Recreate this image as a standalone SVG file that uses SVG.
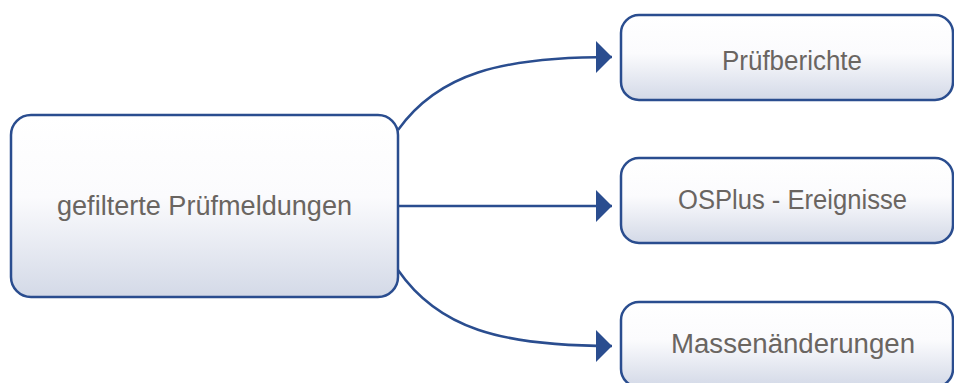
<svg xmlns="http://www.w3.org/2000/svg" width="954" height="383" viewBox="0 0 954 383">
<defs>
<linearGradient id="g" x1="0" y1="0" x2="0" y2="1">
<stop offset="0" stop-color="#ffffff"/>
<stop offset="0.45" stop-color="#fbfbfd"/>
<stop offset="1" stop-color="#d3d9e7"/>
</linearGradient>
<marker id="arr" markerUnits="userSpaceOnUse" markerWidth="18" markerHeight="34" refX="16" refY="16" orient="auto" viewBox="0 0 18 34">
<path d="M0,0 L16,16 L0,32 Z" fill="#2a4d8f"/>
</marker>
</defs>
<style>
.box{fill:url(#g);stroke:#2a4d8f;stroke-width:2.5}
.lbl{font-family:"Liberation Sans",Arial,sans-serif;font-size:27px;fill:#6a6561;text-anchor:middle}
.con{fill:none;stroke:#2a4d8f;stroke-width:2.5;marker-end:url(#arr)}
</style>
<rect width="954" height="383" fill="#ffffff"/>
<g id="connectors">
<path class="con" d="M398,130 C438,74 500,57 612,57"/>
<path class="con" d="M398,206 L612,206"/>
<path class="con" d="M398,270 C438,328 500,346 612,346"/>
</g>
<g id="node-source">
<rect class="box" x="11" y="115" width="387" height="182" rx="20"/>
<text class="lbl" x="204.5" y="215" textLength="295" lengthAdjust="spacingAndGlyphs">gefilterte Prüfmeldungen</text>
</g>
<g id="node-pruefberichte">
<rect class="box" x="621" y="15" width="332" height="85" rx="18"/>
<text class="lbl" x="792" y="69.5" textLength="140" lengthAdjust="spacingAndGlyphs">Prüfberichte</text>
</g>
<g id="node-osplus">
<rect class="box" x="621" y="158" width="332" height="85" rx="18"/>
<text class="lbl" x="792.5" y="209" textLength="229" lengthAdjust="spacingAndGlyphs">OSPlus - Ereignisse</text>
</g>
<g id="node-massen">
<rect class="box" x="621" y="302" width="332" height="85" rx="18"/>
<text class="lbl" x="793" y="353" textLength="244" lengthAdjust="spacingAndGlyphs">Massenänderungen</text>
</g>
</svg>
